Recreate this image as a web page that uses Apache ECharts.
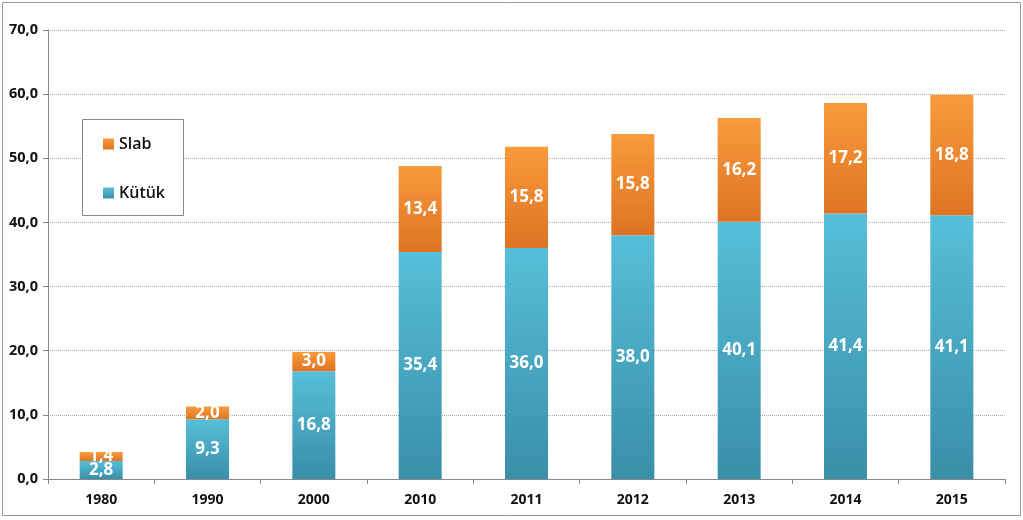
<!DOCTYPE html>
<html><head><meta charset="utf-8">
<script src="https://cdn.jsdelivr.net/npm/echarts@6/dist/echarts.min.js"></script>
<style>html,body{margin:0;padding:0;background:#fff}#c{width:1023px;height:520px}</style>
</head><body><div id="c"></div>
<script>
const categories = ['1980','1990','2000','2010','2011','2012','2013','2014','2015'];
const kutuk = [2.8, 9.3, 16.8, 35.4, 36.0, 38.0, 40.1, 41.4, 41.1];
const slab = [1.4, 2.0, 3.0, 13.4, 15.8, 15.8, 16.2, 17.2, 18.8];
const fmt = v => v.toFixed(1).replace('.', ',');
const chart = echarts.init(document.getElementById('c'));
const grad = (a, b) => new echarts.graphic.LinearGradient(0, 0, 0, 1, [{offset:0,color:a},{offset:1,color:b}]);
const lbl = {show:true, position:'inside', color:'#fff', fontFamily:'Open Sans', fontWeight:'bold', fontSize:17, formatter: p => fmt(p.value)};
chart.setOption({
  animation:false,
  graphic:[
    {type:'rect', shape:{x:2.5,y:2.5,width:1018,height:513}, style:{fill:'none', stroke:'#9a9a9a', lineWidth:1}, z:-1},
    {type:'rect', shape:{x:82.5,y:119.5,width:101,height:96}, style:{fill:'#fff', stroke:'#888', lineWidth:1}, z:10}
  ],
  legend:{
    orient:'vertical', left:103, top:136, padding:0, itemWidth:11, itemHeight:11, itemGap:33, z:11,
    data:['Slab','Kütük'], icon:'rect',
    textStyle:{fontFamily:'Open Sans', fontSize:16, fontWeight:600, color:'#111', lineHeight:14}
  },
  grid:{left:48, right:18, top:30, bottom:41},
  xAxis:{
    type:'category', data:categories,
    axisLine:{lineStyle:{color:'#888'}},
    axisTick:{show:true, length:5, lineStyle:{color:'#888'}},
    axisLabel:{color:'#111', fontFamily:'Open Sans', fontWeight:'bold', fontSize:14, margin:14}
  },
  yAxis:{
    type:'value', min:0, max:70, interval:10,
    axisLine:{show:true, lineStyle:{color:'#888'}},
    axisTick:{show:true, length:5, lineStyle:{color:'#888'}},
    splitLine:{lineStyle:{color:'#aaa', type:'dotted'}},
    axisLabel:{color:'#111', fontFamily:'Open Sans', fontWeight:'bold', fontSize:14.5, margin:10, formatter:v => fmt(v)}
  },
  series:[
    {name:'Kütük', type:'bar', stack:'t', data:kutuk, barWidth:43,
     itemStyle:{color:grad('#56bfd9','#3a8ea8')}, label:lbl},
    {name:'Slab', type:'bar', stack:'t', data:slab, barWidth:43,
     itemStyle:{color:grad('#f99a3c','#de7423')}, label:lbl}
  ]
});
</script></body></html>
